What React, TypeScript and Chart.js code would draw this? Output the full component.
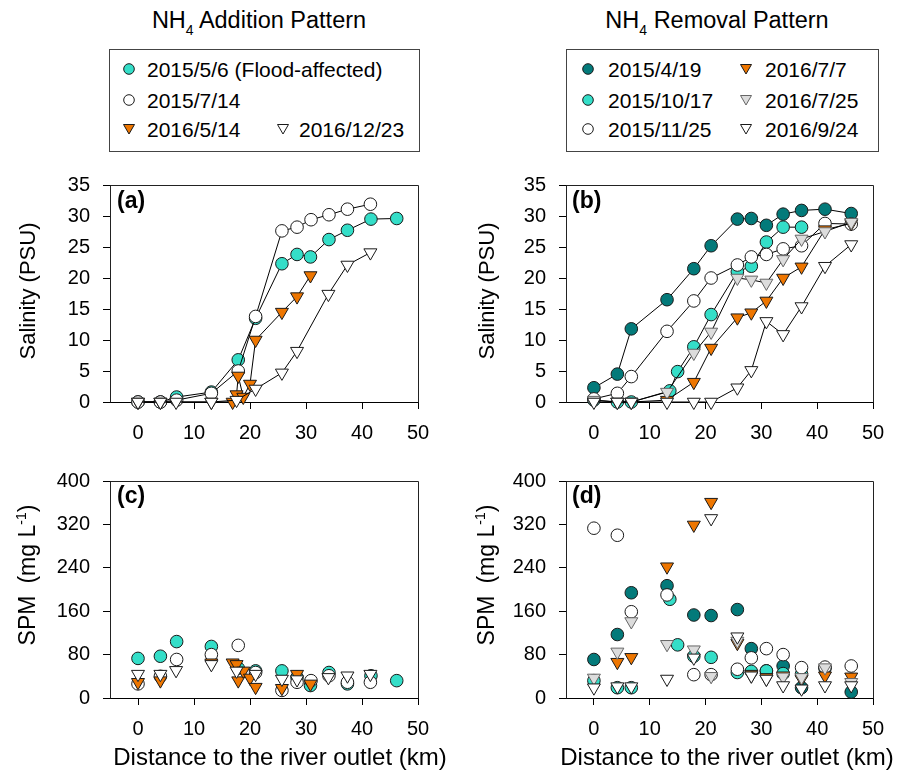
import React, { useEffect, useRef } from "react";
import { Chart, registerables } from "chart.js";
Chart.register(...registerables);

const FONT = "'Liberation Sans', Arial, Helvetica, sans-serif";

// ---------- tick values ----------
const xTicks = [0, 10, 20, 30, 40, 50];
const salTicks = [0, 5, 10, 15, 20, 25, 30, 35];
const spmTicks = [0, 80, 160, 240, 320, 400];

// ---------- NH4 addition pattern (panels a, c) ----------
const add0506Km = [0, 4, 6.9, 13.1, 17.9, 21.0, 25.7, 28.4, 30.8, 34.1, 37.4, 41.6, 46.2];
const add0506Sal = [0, 0, 0.8, 1.6, 6.8, 13.5, 22.3, 23.8, 23.4, 26.2, 27.7, 29.5, 29.6];
const add0506Spm = [73, 77, 104, 95, 55, 50, 50, 38, 23, 47, 26, 41, 32];

const add0714Km = [0, 4, 6.9, 13.1, 17.9, 21.0, 25.7, 28.4, 30.9, 34.1, 37.4, 41.5];
const add0714Sal = [0, 0, 0.3, 1.4, 5.0, 13.8, 27.6, 28.2, 29.4, 30.2, 31.1, 31.9];
const add0714Spm = [26, 40, 71, 80, 97, 47, 14, 29, 32, 41, 29, 29];

const add0514Km = [0, 4, 13.1, 16.9, 17.6, 17.9, 18.8, 20.0, 21.0, 25.7, 28.4, 30.8];
const add0514Sal = [0, 0, 0, 0, 1.2, 4.2, 0.8, 2.9, 10.0, 14.5, 17.0, 20.4];
const add0514Spm = [29, 32, 65, 65, 62, 32, 50, 37, 20, 18, 44, 26];

const add1223Km = [0, 4, 6.8, 13.1, 17.6, 21.0, 25.7, 28.4, 34.0, 37.4, 41.5];
const add1223Sal = [0, 0, 0, 0, 0.3, 2.1, 4.7, 8.2, 17.4, 22.1, 24.1];
const add1223Spm = [44, 44, 51, 62, 50, 44, 35, 34, 38, 41, 44];

// ---------- NH4 removal pattern (panels b, d) ----------
const remKm = [0, 4.2, 6.7, 13.1, 17.9, 21.0, 25.7, 28.2, 30.9, 33.9, 37.2, 41.4, 46.1];

const rem0419Sal = [2.3, 4.5, 11.8, 16.5, 21.5, 25.2, 29.5, 29.6, 28.5, 30.3, 30.9, 31.1, 30.4];
const rem0419Spm = [71, 117, 194, 207, 153, 152, 163, 91, 50, 59, 19, 55, 11];

const rem1017Km = [0, 4.2, 6.7, 13.6, 15.0, 17.9, 21.0, 25.7, 28.2, 30.9, 33.9, 37.2];
const rem1017Sal = [0.3, 0, 0, 1.8, 4.9, 8.9, 14.1, 21.0, 21.9, 25.8, 28.2, 28.2];
const rem1017Spm = [32, 19, 19, 182, 98, 77, 75, 47, 49, 50, 45, 44];

const rem1125Sal = [0.5, 1.4, 4.1, 11.4, 16.3, 20.0, 22.1, 23.4, 23.8, 24.7, 25.2, 28.8, 28.7];
const rem1125Spm = [313, 300, 159, 190, 43, 43, 53, 74, 91, 80, 56, 57, 59];

const rem0707Km = [4.2, 6.7, 13.1, 17.9, 21.0, 25.7, 28.2, 30.9, 33.9, 37.2, 41.4, 46.1];
const rem0707Sal = [0, 0, 0.3, 3.2, 8.7, 13.6, 14.4, 16.3, 20.0, 21.8, 27.8, 28.8];
const rem0707Spm = [66, 75, 242, 319, 361, 101, 44, 38, 41, 35, 41, 39];

const rem0725Sal = [0.3, 0, 0, 1.6, 7.9, 11.3, 20.0, 19.7, 19.2, 23.0, 26.3, 27.5, 29.0];
const rem0725Spm = [37, 85, 141, 99, 89, 40, 105, 41, 35, 39, 38, 56, 29];

const rem0924Sal = [0, 0, 0, 0, 0, 0, 2.3, 5.1, 13.0, 10.9, 15.4, 21.9, 25.4];
const rem0924Spm = [19, 21, 21, 35, 74, 331, 113, 41, 35, 23, 17, 23, 23];

// ---------- styles ----------
const TEAL = "#34DEC8";
const DARK_TEAL = "#037A7A";
const ORANGE = "#EE7600";
const GREY = "#DCDCDC";
const WHITE = "#FFFFFF";
const EDGE = "#1A1A1A";

type Marker = { shape: "circle" | "tri"; fill: string; stroke: string };
type Series = { label: string; km: number[]; sal: number[]; spm: number[]; m: Marker };

const addSeries: Series[] = [
  { label: "2015/5/6 (Flood-affected)", km: add0506Km, sal: add0506Sal, spm: add0506Spm, m: { shape: "circle", fill: TEAL, stroke: EDGE } },
  { label: "2015/7/14", km: add0714Km, sal: add0714Sal, spm: add0714Spm, m: { shape: "circle", fill: WHITE, stroke: EDGE } },
  { label: "2016/5/14", km: add0514Km, sal: add0514Sal, spm: add0514Spm, m: { shape: "tri", fill: ORANGE, stroke: EDGE } },
  { label: "2016/12/23", km: add1223Km, sal: add1223Sal, spm: add1223Spm, m: { shape: "tri", fill: WHITE, stroke: EDGE } },
];

const remSeries: Series[] = [
  { label: "2015/4/19", km: remKm, sal: rem0419Sal, spm: rem0419Spm, m: { shape: "circle", fill: DARK_TEAL, stroke: EDGE } },
  { label: "2015/10/17", km: rem1017Km, sal: rem1017Sal, spm: rem1017Spm, m: { shape: "circle", fill: TEAL, stroke: EDGE } },
  { label: "2015/11/25", km: remKm, sal: rem1125Sal, spm: rem1125Spm, m: { shape: "circle", fill: WHITE, stroke: EDGE } },
  { label: "2016/7/7", km: rem0707Km, sal: rem0707Sal, spm: rem0707Spm, m: { shape: "tri", fill: ORANGE, stroke: EDGE } },
  { label: "2016/7/25", km: remKm, sal: rem0725Sal, spm: rem0725Spm, m: { shape: "tri", fill: GREY, stroke: "#666666" } },
  { label: "2016/9/24", km: remKm, sal: rem0924Sal, spm: rem0924Spm, m: { shape: "tri", fill: WHITE, stroke: EDGE } },
];

function buildDatasets(series: Series[], key: "sal" | "spm", showLine: boolean) {
  return series.map((s, i) => ({
    label: s.label,
    data: s.km.map((x, k) => ({ x, y: s[key][k] })),
    showLine,
    borderColor: "#000000",
    borderWidth: 1,
    tension: 0,
    fill: false,
    pointStyle: s.m.shape === "circle" ? "circle" : "triangle",
    rotation: s.m.shape === "tri" ? 180 : 0,
    pointRadius: s.m.shape === "circle" ? 6.3 : 7.5,
    pointBackgroundColor: s.m.fill,
    pointBorderColor: s.m.stroke,
    pointBorderWidth: 1,
    clip: false,
    order: -i,
  }));
}

const framePlugin = {
  id: "frame",
  beforeDatasetsDraw(chart: any) {
    const { ctx, chartArea: a } = chart;
    ctx.save();
    ctx.strokeStyle = "#222";
    ctx.lineWidth = 1;
    const x0 = Math.floor(a.left) + 0.5;
    const y0 = Math.floor(a.top) + 0.5;
    const x1 = Math.floor(a.right) + 0.5;
    const y1 = Math.floor(a.bottom) + 0.5;
    ctx.beginPath();
    ctx.moveTo(x0, y1);
    ctx.lineTo(x0, y0);
    ctx.lineTo(x1, y0);
    ctx.lineTo(x1, y1);
    ctx.stroke();
    ctx.restore();
  },
};

type PanelProps = {
  left: number; top: number; width: number; height: number;
  yWidth: number; padRight: number;
  yMax: number; yTicks: number[];
  datasets: any[];
};

function Panel(p: PanelProps) {
  const ref = useRef<HTMLCanvasElement>(null);
  useEffect(() => {
    const axisGrid = { display: true, drawOnChartArea: false, drawTicks: true, tickLength: 7, color: "#000", lineWidth: 1 };
    const tickFont = { family: FONT, size: 20 };
    const chart = new Chart(ref.current as HTMLCanvasElement, {
      type: "scatter",
      data: { datasets: p.datasets },
      options: {
        animation: false,
        responsive: false,
        maintainAspectRatio: false,
        devicePixelRatio: 1,
        layout: { padding: { top: 20, right: p.padRight, left: 0, bottom: 0 } },
        plugins: { legend: { display: false }, tooltip: { enabled: false } },
        scales: {
          x: {
            type: "linear", min: -5, max: 50,
            afterBuildTicks: (s: any) => { s.ticks = xTicks.map((v) => ({ value: v })); },
            afterFit: (s: any) => { s.height = 48; },
            grid: axisGrid,
            border: { display: true, color: "#000", width: 1 },
            ticks: { color: "#000", font: tickFont, padding: 12, maxRotation: 0, autoSkip: false },
          },
          y: {
            type: "linear", min: 0, max: p.yMax,
            afterBuildTicks: (s: any) => { s.ticks = p.yTicks.map((v) => ({ value: v })); },
            afterFit: (s: any) => { s.width = p.yWidth; },
            grid: axisGrid,
            border: { display: true, color: "#000", width: 1 },
            ticks: { color: "#000", font: tickFont, padding: 13, autoSkip: false },
          },
        },
      } as any,
      plugins: [framePlugin],
    });
    return () => chart.destroy();
  }, []);
  return (
    <canvas
      ref={ref}
      width={p.width}
      height={p.height}
      style={{ position: "absolute", left: p.left, top: p.top, width: p.width, height: p.height }}
    />
  );
}

function MarkerIcon({ m, x, y }: { m: Marker; x: number; y: number }) {
  const s = 14;
  return (
    <svg width={s} height={s} style={{ position: "absolute", left: x - s / 2, top: y - s / 2 }}>
      {m.shape === "circle" ? (
        <circle cx={7} cy={7} r={5.3} fill={m.fill} stroke={m.stroke} strokeWidth={1} />
      ) : (
        <polygon points="1.5,2.5 12.5,2.5 7,12" fill={m.fill} stroke={m.stroke} strokeWidth={1} />
      )}
    </svg>
  );
}

const textBase: React.CSSProperties = { position: "absolute", fontFamily: FONT, color: "#000", whiteSpace: "nowrap" };

function LegendItem({ m, label, mx, tx, row }: { m: Marker; label: string; mx: number; tx: number; row: number }) {
  const baselines = [77, 108, 137];
  const b = baselines[row];
  return (
    <>
      <MarkerIcon m={m} x={mx} y={b - 8} />
      <div style={{ ...textBase, left: tx, top: b - 20, fontSize: 21, lineHeight: "25px" }}>{label}</div>
    </>
  );
}

function Title({ cx, text }: { cx: number; text: string }) {
  return (
    <div style={{ ...textBase, left: cx, top: 7, transform: "translateX(-50%)", fontSize: 23.5, lineHeight: "26px" }}>
      NH<span style={{ fontSize: 14, position: "relative", top: 7 }}>4</span> {text}
    </div>
  );
}

function VTitle({ cx, cy, children }: { cx: number; cy: number; children: React.ReactNode }) {
  return (
    <div
      style={{
        ...textBase, left: cx, top: cy, fontSize: 22, lineHeight: "26px",
        transform: "translate(-50%, -50%) rotate(-90deg)",
      }}
    >
      {children}
    </div>
  );
}

function PanelLabel({ x, y, text }: { x: number; y: number; text: string }) {
  return (
    <div style={{ ...textBase, left: x, top: y, fontSize: 23, fontWeight: "bold", lineHeight: "23px" }}>{text}</div>
  );
}

const spmTitle = (
  <span style={{ fontSize: 23 }}>
    SPM<span style={{ display: "inline-block", width: 12 }} />(mg L<span style={{ fontSize: 14, position: "relative", top: -9 }}>-1</span>)
  </span>
);

export default function App() {
  const box: React.CSSProperties = { position: "absolute", border: "1px solid #444", boxSizing: "border-box" };
  return (
    <div style={{ position: "absolute", left: 0, top: 0, width: 913, height: 772, background: "#fff", overflow: "hidden" }}>
      <Title cx={259} text="Addition Pattern" />
      <Title cx={717} text="Removal Pattern" />

      <div style={{ ...box, left: 109, top: 49, width: 311, height: 103 }} />
      <LegendItem m={addSeries[0].m} label={addSeries[0].label} mx={129} tx={147} row={0} />
      <LegendItem m={addSeries[1].m} label={addSeries[1].label} mx={129} tx={147} row={1} />
      <LegendItem m={addSeries[2].m} label={addSeries[2].label} mx={129} tx={147} row={2} />
      <LegendItem m={addSeries[3].m} label={addSeries[3].label} mx={283} tx={299} row={2} />

      <div style={{ ...box, left: 566, top: 49, width: 313, height: 103 }} />
      <LegendItem m={remSeries[0].m} label={remSeries[0].label} mx={588} tx={608} row={0} />
      <LegendItem m={remSeries[1].m} label={remSeries[1].label} mx={588} tx={608} row={1} />
      <LegendItem m={remSeries[2].m} label={remSeries[2].label} mx={588} tx={608} row={2} />
      <LegendItem m={remSeries[3].m} label={remSeries[3].label} mx={746} tx={765} row={0} />
      <LegendItem m={remSeries[4].m} label={remSeries[4].label} mx={746} tx={765} row={1} />
      <LegendItem m={remSeries[5].m} label={remSeries[5].label} mx={746} tx={765} row={2} />

      <Panel left={0} top={160} width={450} height={290} yWidth={110} padRight={32} yMax={35} yTicks={salTicks}
        datasets={buildDatasets(addSeries, "sal", true)} />
      <Panel left={460} top={160} width={440} height={290} yWidth={106} padRight={27} yMax={35} yTicks={salTicks}
        datasets={buildDatasets(remSeries, "sal", true)} />
      <Panel left={0} top={456} width={450} height={290} yWidth={110} padRight={32} yMax={400} yTicks={spmTicks}
        datasets={buildDatasets(addSeries, "spm", false)} />
      <Panel left={460} top={456} width={440} height={290} yWidth={106} padRight={27} yMax={400} yTicks={spmTicks}
        datasets={buildDatasets(remSeries, "spm", false)} />

      <PanelLabel x={117} y={189} text="(a)" />
      <PanelLabel x={572} y={189} text="(b)" />
      <PanelLabel x={117} y={484} text="(c)" />
      <PanelLabel x={572} y={484} text="(d)" />

      <VTitle cx={28} cy={291}>Salinity (PSU)</VTitle>
      <VTitle cx={487} cy={291}>Salinity (PSU)</VTitle>
      <VTitle cx={28} cy={575}>{spmTitle}</VTitle>
      <VTitle cx={487} cy={575}>{spmTitle}</VTitle>

      <div style={{ ...textBase, left: 280, top: 743, transform: "translateX(-50%)", fontSize: 24, lineHeight: "27px" }}>
        Distance to the river outlet (km)
      </div>
      <div style={{ ...textBase, left: 727, top: 743, transform: "translateX(-50%)", fontSize: 24, lineHeight: "27px" }}>
        Distance to the river outlet (km)
      </div>
    </div>
  );
}
